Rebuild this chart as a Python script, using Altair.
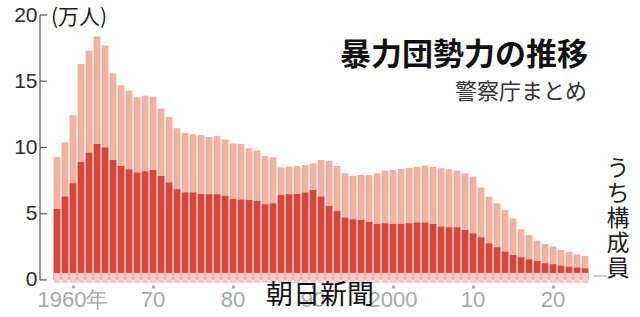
import altair as alt
import pandas as pd

years = list(range(1958, 2025))
total = [9.28, 10.4, 12.45, 16.3, 17.3, 18.4, 17.7, 15.6, 14.7, 14.3,
         13.8, 13.9, 13.85, 12.95, 12.3, 11.45, 11.1, 11.0, 10.94, 10.8,
         10.87, 10.6, 10.3, 10.26, 9.94, 9.8, 9.36, 9.26, 8.5, 8.55,
         8.6, 8.68, 8.8, 9.06, 9.0, 8.6, 8.05, 7.85, 7.92, 7.92,
         8.05, 8.25, 8.3, 8.38, 8.45, 8.55, 8.63, 8.55, 8.43, 8.35,
         8.25, 8.05, 7.8, 6.97, 6.29, 5.78, 5.28, 4.65, 3.82, 3.4,
         2.97, 2.72, 2.52, 2.26, 2.14, 1.94, 1.81]
members = [5.36, 6.3, 7.3, 8.9, 9.6, 10.26, 10.0, 9.05, 8.6, 8.35,
           8.1, 8.2, 8.3, 7.85, 7.35, 6.85, 6.6, 6.6, 6.49, 6.47,
           6.47, 6.34, 6.11, 6.06, 6.04, 5.96, 5.71, 5.78, 6.42, 6.47,
           6.49, 6.59, 6.79, 6.29, 5.58, 5.2, 4.7, 4.58, 4.53, 4.38,
           4.23, 4.28, 4.23, 4.23, 4.28, 4.33, 4.33, 4.23, 4.03, 3.98,
           3.98, 3.77, 3.52, 3.22, 2.77, 2.47, 2.14, 1.89, 1.71, 1.56,
           1.43, 1.26, 1.18, 1.08, 1.0, 0.93, 0.88]

x_tick_years = [1960, 1970, 1980, 1990, 2000, 2010, 2020]
x_tick_labels = ["1960年", "70", "80", "90", "2000", "10", "20"]
y_ticks = [0, 5, 10, 15, 20]

title_text = "暴力団勢力の推移"
subtitle_text = "警察庁まとめ"
unit_text = "(万人)"
member_label = ["う", "ち", "構", "成", "員"]
credit_text = "朝日新聞"

LIGHT = "#f3b2a1"
DARK = "#d2473b"
STRIP = "#f6cccb"
NUM_FONT = "Liberation Sans Narrow, Liberation Sans, sans-serif"
JP_FONT = "Noto Sans CJK JP"

df = pd.DataFrame({"year": years, "total": total, "members": members})
ticks_df = pd.DataFrame({"v": y_ticks})

label_expr = "''"
for yv, lab in reversed(list(zip(x_tick_years, x_tick_labels))):
    label_expr = f"datum.value == {yv} ? '{lab}' : " + label_expr

xscale = alt.Scale(paddingInner=0.15, paddingOuter=0, range=[13.6, 548.4])
yscale = alt.Scale(domain=[-0.23, 20], nice=False, zero=False)

xaxis = alt.Axis(values=x_tick_years, labelExpr=label_expr, labelAngle=0, title=None,
                 domain=False, ticks=True, tickColor="#b0b0b0", tickSize=3,
                 tickWidth=3, offset=2, bandPosition=0.5, grid=False,
                 labelColor="#a8a8a8", labelFont=NUM_FONT, labelFontSize=22,
                 labelPadding=1, labelFlush=False)
yaxis = alt.Axis(values=y_ticks, domain=False, ticks=False, grid=False, title=None,
                 labelColor="#2a2a2a", labelFont=NUM_FONT, labelFontSize=21,
                 labelPadding=3)

base = alt.Chart(df)

light = base.mark_bar(color=LIGHT).encode(
    x=alt.X("year:O", scale=xscale, axis=xaxis),
    y=alt.Y("total:Q", scale=yscale, axis=yaxis),
    y2=alt.datum(0),
)

dark = base.mark_bar(color=DARK).encode(
    x=alt.X("year:O", scale=xscale, axis=xaxis),
    y=alt.Y("members:Q", scale=yscale, axis=yaxis),
    y2=alt.datum(0),
)

strip = base.mark_bar(color=STRIP).encode(
    x=alt.X("year:O", scale=xscale, axis=xaxis),
    y=alt.datum(0.53, scale=yscale, axis=yaxis),
    y2=alt.datum(-0.23),
)

axis_line = alt.Chart(pd.DataFrame({"a": [0]})).mark_rule(color="#555", strokeWidth=1.2).encode(
    x=alt.value(0),
    y=alt.datum(20, scale=yscale, axis=yaxis),
    y2=alt.datum(0),
)

tick_marks = alt.Chart(ticks_df).mark_rule(color="#555", strokeWidth=1.2).encode(
    x=alt.value(0),
    x2=alt.value(7),
    y=alt.Y("v:Q", scale=yscale, axis=yaxis),
)

def txt(text, x, y, size, align="left", baseline="middle", weight="normal",
        color="#222", font=JP_FONT, **kw):
    return alt.Chart(pd.DataFrame({"t": [0]})).mark_text(
        text=text, align=align, baseline=baseline, fontSize=size,
        fontWeight=weight, color=color, font=font, **kw
    ).encode(x=alt.value(x), y=alt.value(y))

title = txt(title_text, 548, 41, 31, align="right", baseline="middle", weight="bold", color="#111")
subtitle = txt(subtitle_text, 547, 77, 22, align="right", color="#333")
unit = txt(unit_text, 11, 3, 21, align="left", color="#222")
credit = txt(credit_text, 280, 281, 27, align="center", color="#111")
vert = txt(member_label, 578, 143, 23, align="center", baseline="top", color="#222", lineHeight=25)

leader = alt.Chart(pd.DataFrame({"a": [0]})).mark_rule(color="#aaaaaa", strokeWidth=1.2).encode(
    x=alt.value(553), x2=alt.value(567), y=alt.value(261)
)

chart = alt.layer(
    light, dark, strip, axis_line, tick_marks, leader,
    title, subtitle, unit, credit, vert
).properties(
    width=562, height=268,
    autosize=alt.AutoSizeParams(type="none"),
    padding={"left": 40, "top": 15, "right": 38, "bottom": 34},
    background="white",
).configure_view(stroke=None)

chart.save("out.html", embed_options={"renderer": "svg", "actions": False})
